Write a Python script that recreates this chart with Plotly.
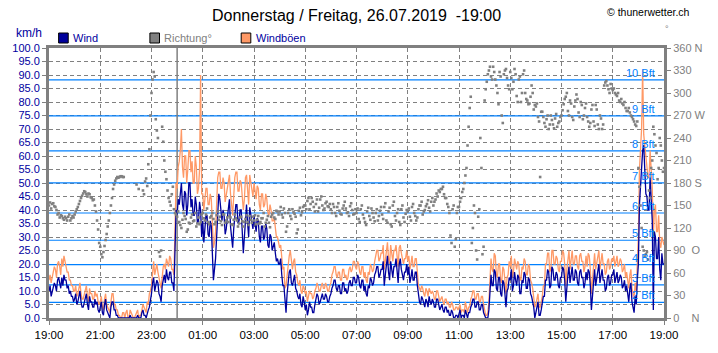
import plotly.graph_objects as go

# ---------------- data (2.5-minute samples, 19:00 -> 19:00 next day) ----------------
time_labels = ["19:00", "21:00", "23:00", "01:00", "03:00", "05:00", "07:00",
               "09:00", "11:00", "13:00", "15:00", "17:00", "19:00"]

wind = [
    10, 12, 8, 10, 11, 13, 12, 10, 14, 15, 13, 11, 15, 12, 16, 14, 14, 11, 12, 9, 10, 8, 8, 6,          # 19h
    7, 9, 5, 6, 8, 10, 6, 4, 4, 6, 7, 9, 5, 3, 8, 6, 6, 4, 4, 7, 5, 6, 3, 2,                           # 20h
    4, 6, 2, 1, 5, 7, 3, 2, 1, 0, 4, 6, 6, 3, 3, 1, 1, 0, 0, 0, 0, 0, 0, 0,                            # 21h
    0, 0, 0, 0, 1, 0, 0, 0, 0, 0, 0, 1, 0, 0, 0, 2, 3, 1, 1, 0, 2, 3, 4, 6,                            # 22h
    9, 13, 15, 10, 12, 14, 13, 9, 8, 6, 12, 14, 16, 13, 18, 15, 14, 17, 17, 13, 13, 10, 28, 40,        # 23h
    38, 44, 42, 48, 50, 42, 40, 47, 46, 38, 42, 50, 50, 41, 44, 38, 38, 45, 42, 35, 36, 43, 40, 30,    # 00h
    36, 28, 32, 38, 38, 31, 30, 36, 34, 20, 14, 18, 22, 30, 40, 46, 44, 38, 36, 40, 38, 31, 33, 37,    # 01h
    40, 44, 34, 28, 26, 33, 38, 42, 42, 35, 36, 40, 40, 34, 24, 30, 38, 42, 35, 30, 41, 38, 37, 33,    # 02h
    38, 35, 32, 37, 36, 30, 28, 34, 34, 29, 30, 35, 33, 27, 26, 31, 30, 25, 27, 28, 24, 21, 22, 20,    # 03h
    20, 22, 16, 12, 12, 5, 2, 9, 14, 17, 18, 13, 12, 15, 16, 11, 10, 8, 7, 9, 5, 4, 8, 6,              # 04h
    3, 5, 1, 3, 6, 4, 4, 2, 2, 5, 7, 9, 8, 5, 6, 8, 9, 7, 7, 9, 8, 6, 6, 8,                            # 05h
    9, 11, 12, 14, 14, 11, 10, 12, 12, 9, 9, 13, 13, 10, 11, 9, 10, 13, 14, 12, 12, 15, 15, 13,        # 06h
    13, 16, 15, 12, 11, 14, 14, 10, 12, 9, 8, 12, 11, 15, 14, 12, 13, 16, 17, 19, 19, 15, 16, 18,      # 07h
    18, 21, 12, 16, 20, 23, 17, 14, 21, 18, 15, 19, 19, 22, 16, 13, 20, 22, 18, 15, 14, 17, 17, 20,    # 08h
    16, 19, 13, 15, 18, 14, 14, 17, 17, 12, 8, 6, 5, 8, 7, 5, 4, 7, 6, 4, 8, 6, 5, 7,                  # 09h
    6, 4, 4, 7, 7, 5, 3, 4, 5, 3, 2, 4, 4, 2, 3, 1, 1, 3, 2, 0, 0, 1, 1, 0,                            # 10h
    2, 3, 0, 1, 1, 0, 3, 1, 0, 2, 2, 4, 5, 7, 7, 4, 4, 6, 6, 3, 3, 5, 5, 2,                            # 11h
    1, 0, 0, 0, 3, 12, 16, 12, 12, 18, 17, 11, 10, 15, 15, 9, 8, 14, 13, 9, 4, 10, 11, 15,             # 12h
    14, 18, 10, 12, 17, 14, 12, 16, 15, 9, 9, 14, 13, 17, 16, 11, 11, 15, 14, 9, 8, 6, 4, 0,           # 13h
    2, 5, 6, 1, 1, 3, 5, 8, 8, 14, 14, 18, 17, 11, 12, 19, 18, 14, 14, 17, 16, 12, 11, 15,             # 14h
    15, 19, 18, 14, 6, 12, 16, 19, 13, 16, 19, 14, 14, 18, 17, 13, 12, 17, 18, 15, 15, 11, 13, 17,     # 15h
    14, 18, 17, 12, 3, 8, 15, 18, 12, 15, 16, 20, 13, 16, 18, 14, 14, 10, 11, 15, 16, 12, 13, 16,      # 16h
    16, 18, 13, 15, 17, 13, 14, 16, 15, 11, 12, 14, 10, 12, 8, 6, 11, 13, 6, 4, 2, 8, 5, 14,           # 17h
    20, 42, 50, 58, 62, 64, 52, 46, 45, 40, 40, 52, 44, 36, 3, 32, 30, 22, 22, 30, 18, 14, 24, 20,     # 18h
    20,
]

gust = [
    14, 16, 13, 15, 16, 19, 18, 15, 20, 21, 19, 16, 22, 19, 23, 21, 20, 17, 17, 14, 14, 12, 12, 10,
    10, 12, 8, 9, 11, 13, 9, 7, 7, 9, 10, 12, 8, 6, 11, 9, 9, 7, 7, 10, 8, 9, 6, 5,
    6, 8, 4, 3, 7, 9, 5, 4, 3, 2, 6, 9, 9, 5, 5, 3, 3, 1, 1, 0, 0, 2, 2, 0,
    2, 3, 0, 0, 3, 2, 1, 0, 0, 1, 2, 3, 0, 1, 1, 4, 5, 4, 3, 2, 6, 5, 9, 10,
    12, 17, 21, 16, 18, 20, 17, 14, 13, 11, 16, 19, 20, 18, 22, 20, 19, 23, 22, 18, 18, 16, 42, 50,
    48, 56, 58, 62, 70, 56, 52, 60, 60, 50, 55, 62, 62, 54, 58, 50, 50, 60, 56, 46, 48, 55, 90, 46,
    46, 40, 44, 48, 48, 42, 42, 46, 44, 32, 26, 28, 32, 42, 52, 54, 54, 48, 48, 52, 50, 43, 46, 49,
    50, 53, 46, 41, 38, 45, 52, 54, 54, 47, 47, 51, 50, 45, 40, 44, 52, 53, 46, 42, 53, 50, 48, 45,
    50, 47, 44, 49, 48, 42, 40, 46, 46, 41, 42, 46, 44, 39, 38, 42, 40, 36, 36, 37, 33, 30, 30, 28,
    26, 27, 22, 18, 19, 11, 12, 16, 20, 23, 25, 20, 18, 21, 22, 17, 16, 13, 12, 14, 10, 9, 12, 11,
    9, 10, 6, 8, 10, 9, 9, 7, 8, 10, 11, 13, 12, 10, 10, 12, 13, 11, 11, 13, 12, 10, 10, 12,
    13, 16, 17, 19, 19, 16, 15, 17, 17, 14, 14, 18, 18, 15, 16, 14, 15, 18, 19, 17, 18, 21, 21, 19,
    18, 21, 20, 17, 16, 19, 19, 15, 17, 14, 13, 17, 16, 20, 19, 17, 18, 21, 24, 25, 25, 21, 22, 24,
    24, 27, 18, 22, 26, 28, 22, 20, 27, 24, 21, 25, 25, 27, 22, 19, 26, 27, 24, 21, 20, 22, 22, 25,
    21, 23, 18, 20, 23, 19, 19, 22, 22, 17, 12, 11, 10, 12, 11, 9, 8, 11, 10, 8, 11, 10, 9, 10,
    9, 7, 7, 10, 10, 8, 6, 7, 8, 6, 5, 7, 7, 5, 6, 4, 4, 6, 5, 3, 3, 4, 4, 3,
    4, 5, 2, 3, 3, 2, 6, 3, 2, 4, 4, 7, 8, 10, 10, 7, 7, 9, 9, 6, 6, 8, 8, 5,
    3, 1, 1, 2, 6, 18, 22, 18, 17, 24, 23, 16, 15, 20, 20, 14, 13, 19, 18, 14, 9, 15, 16, 21,
    19, 23, 15, 17, 22, 20, 18, 21, 20, 14, 14, 19, 18, 22, 21, 16, 16, 20, 19, 14, 13, 11, 8, 4,
    5, 8, 9, 4, 4, 6, 8, 12, 12, 20, 20, 24, 24, 17, 18, 25, 25, 20, 20, 23, 22, 18, 17, 21,
    21, 25, 24, 20, 12, 18, 22, 25, 18, 22, 25, 20, 20, 23, 23, 19, 18, 23, 24, 21, 21, 17, 19, 23,
    19, 24, 23, 18, 9, 14, 21, 24, 18, 21, 22, 25, 18, 22, 24, 20, 20, 16, 17, 21, 22, 18, 19, 22,
    21, 23, 19, 21, 23, 19, 20, 22, 21, 17, 18, 20, 15, 17, 13, 11, 16, 18, 11, 9, 7, 13, 10, 20,
    30, 55, 62, 70, 92, 68, 64, 58, 56, 52, 52, 62, 54, 48, 30, 40, 42, 32, 32, 38, 28, 26, 30, 28,
    27,
]

direction = [
    150, 154, 146, 152, 153, 149, 148, 144, 138, 140, 134, 137, 136, 133, 131, 135, 133, 130, 135, 138, 130, 133, 136, 134,
    138, 142, 145, 148, 152, 156, 160, 163, 166, 169, 168, 165, 162, 166, 165, 161, 160, 157, 158, 150, 142, 130, 118, 100,
    95, 85, 81, 88, 96, 104, 112, 122, 130, 140, 150, 160, 172, 178, 183, 186, 188, 187, 188, 189, 189, 188, 188, None,
    None, None, None, None, None, None, None, None, None, None, 178, None, 172, None, None, None, 170, 165, 182, 186, 176, 205, 225, 270,
    300, 318, 328, 322, 265, 250, 240, 88, 82, 90, 255, 235, 210, 195, 185, 170, 160, 155, 150, 165, 175, 145, 140, 138,
    135, 142, 128, 124, 120, 131, 140, 136, 132, 115, 118, 127, 126, 134, 138, 129, 130, 140, 122, 126, 134, 125, 128, 138,
    140, 133, 130, 138, 146, 128, 125, 134, 136, 140, 132, 125, 128, 137, 142, 131, 135, 129, 124, 138, 138, 127, 130, 134,
    128, 136, 134, 125, 124, 131, 138, 133, 130, 122, 126, 134, 135, 129, 122, 128, 132, 137, 128, 124, 136, 131, 127, 135,
    130, 137, 125, 131, 136, 126, 128, 133, 133, 140, 122, 127, 131, 136, 127, 121, 135, 138, 140, 134, 132, 143, 142, 138,
    142, 148, 138, 134, 146, 140, 115, 122, 140, 145, 136, 132, 145, 141, 139, 135, 113, 118, 143, 147, 137, 141, 148, 150,
    150, 145, 156, 160, 145, 152, 160, 155, 148, 142, 152, 158, 142, 147, 158, 162, 150, 144, 146, 153, 155, 149, 148, 152,
    145, 140, 152, 148, 140, 136, 148, 153, 143, 139, 138, 146, 150, 155, 146, 140, 141, 136, 149, 153, 144, 138, 139, 145,
    140, 146, 132, 128, 145, 150, 138, 133, 128, 124, 142, 147, 136, 131, 146, 140, 134, 129, 140, 145, 130, 136, 143, 148,
    138, 132, 148, 153, 130, 127, 142, 147, 125, 122, 150, 155, 136, 130, 140, 145, 128, 124, 145, 150, 134, 128, 139, 144,
    142, 146, 135, 130, 148, 152, 140, 136, 130, 134, 145, 150, 150, 155, 138, 142, 144, 149, 152, 157, 147, 142, 155, 160,
    150, 155, 158, 166, 162, 170, 168, 172, 172, 175, 165, 160, 160, 152, 148, 140, 110, 100, 145, 150, 95, 105, 140, 148,
    148, 155, 160, 168, 172, 180, 190, 200, 230, 255, 280, 295, 100, 120, 150, 140, 90, 78, 135, 145, 240, 200, 85, 95,
    290, 305, 315, 325, 330, 335, 322, 318, 335, 328, 318, 310, 300, 285, 328, 322, 270, 260, 325, 330, 332, 320, 310, 305,
    328, 320, 305, 315, 332, 325, 296, 288, 318, 322, 288, 300, 325, 330, 300, 292, 290, 285, 286, 295, 310, 300, 278, 284,
    282, 286, 268, 262, 188, 275, 275, 268, 260, 255, 265, 270, 252, 258, 270, 264, 258, 253, 266, 272, 255, 260, 262, 268,
    270, 277, 285, 292, 295, 300, 276, 270, 290, 286, 268, 264, 282, 290, 298, 292, 274, 268, 288, 284, 265, 270, 280, 286,
    268, 262, 255, 260, 278, 284, 262, 256, 284, 278, 258, 252, 270, 266, 252, 258, 310, 314, 316, 310, 305, 300, 312, 306,
    304, 306, 300, 298, 296, 300, 290, 288, 292, 286, 284, 288, 280, 276, 276, 280, 274, 270, 268, 265, 262, 258, 256, 262,
    200, 175, 150, 120, 95, 90, 82, 85, 88, 78, 170, 160, 200, 210, 255, 245, 230, 220, 185, 200, 240, 230, 210, 195,
    200,
]

bft_kmh = [5.76, 12.24, 19.8, 28.8, 38.88, 50.04, 61.92, 74.88, 88.2]
bft_labels = ["2 Bft", "3 Bft", "4 Bft", "5 Bft", "6 Bft", "7 Bft", "8 Bft", "9 Bft", "10 Bft"]

kmh_ticks = list(range(0, 101, 5))
deg_ticks = list(range(0, 361, 30))
NB = "\u00a0"
deg_labels = ["0" + NB * 4 + "N", "30", "60", "90" + NB * 2 + "O", "120", "150", "180" + NB + "S",
              "210", "240", "270" + NB + "W", "300", "330", "360" + NB + "N"]

title_text = "Donnerstag / Freitag, 26.07.2019" + NB + NB + "-19:00"

assert len(wind) == len(gust) == len(direction) == 577

# ---------------- figure ----------------
t = [i * 2.5 / 60 for i in range(len(wind))]

W, H = 718, 353
L, R, T, B = 40, 38, 48, 35
PW, PH = W - L - R, H - T - B


def px(xp):
    return (xp - L) / PW


def py(yp):
    return (H - B - yp) / PH


GRAY = "#808080"
BLUE_TXT = "#0000A0"
WIND_C = "#00009C"
GUST_C = "#FF9966"
BFT_C = "#0080FF"
FONT = "Liberation Sans, Arial, sans-serif"

fig = go.Figure()
fig.add_trace(go.Scatter(x=t, y=direction, mode="markers", yaxis="y2",
                         marker=dict(symbol="square", size=2.6, color=GRAY, line=dict(width=0)),
                         showlegend=False, hoverinfo="skip"))
fig.add_trace(go.Scatter(x=t, y=gust, mode="lines", line=dict(color=GUST_C, width=1.3),
                         showlegend=False, hoverinfo="skip"))
fig.add_trace(go.Scatter(x=t, y=wind, mode="lines", line=dict(color=WIND_C, width=1.3),
                         showlegend=False, hoverinfo="skip"))

shapes = []
for v in bft_kmh:
    shapes.append(dict(type="line", xref="x", yref="y", x0=0, x1=24, y0=v, y1=v,
                       line=dict(color=BFT_C, width=1.2), layer="between"))
# midnight line
shapes.append(dict(type="line", xref="x", yref="y", x0=5, x1=5, y0=0, y1=100,
                   line=dict(color=GRAY, width=1.5), layer="between"))

# legend squares
legend_items = [(50, WIND_C, "Wind", BLUE_TXT), (145, GRAY, "Richtung°", GRAY), (240, GUST_C, "Windböen", BLUE_TXT)]
annotations = []
for x0, col, label, tcol in legend_items:
    shapes.append(dict(type="rect", xref="paper", yref="paper",
                       x0=px(x0), x1=px(x0 + 10), y0=py(43), y1=py(33),
                       fillcolor=col, line=dict(color="black", width=1), layer="above"))
    annotations.append(dict(text=label, xref="paper", yref="paper", x=px(x0 + 13), y=py(38),
                            xanchor="left", yanchor="middle", showarrow=False,
                            font=dict(family=FONT, size=11, color=tcol)))

for v, lab in zip(bft_kmh, bft_labels):
    annotations.append(dict(text=lab, xref="paper", yref="y", x=px(673), y=v,
                            xanchor="right", yanchor="bottom", showarrow=False, yshift=-1,
                            font=dict(family=FONT, size=11, color=BFT_C)))

annotations += [
    dict(text=title_text, xref="paper", yref="paper", x=0.5, y=py(15), xanchor="center", yanchor="middle",
         showarrow=False, font=dict(family=FONT, size=16, color="black")),
    dict(text="© thunerwetter.ch", xref="paper", yref="paper", x=px(619), y=py(12), xanchor="left",
         yanchor="middle", showarrow=False, font=dict(family=FONT, size=10.5, color="black")),
    dict(text="km/h", xref="paper", yref="paper", x=px(4), y=py(33), xanchor="left", yanchor="middle",
         showarrow=False, font=dict(family=FONT, size=12, color=BLUE_TXT)),
    dict(text="°", xref="paper", yref="paper", x=px(683), y=py(29), xanchor="center", yanchor="middle",
         showarrow=False, font=dict(family=FONT, size=9, color=GRAY)),
]

fig.update_layout(
    width=W, height=H, margin=dict(l=L, r=R, t=T, b=B, pad=0),
    paper_bgcolor="white", plot_bgcolor="white", showlegend=False,
    font=dict(family=FONT),
    xaxis=dict(range=[0, 24], tickmode="array", tickvals=list(range(0, 25, 2)), ticktext=time_labels,
               showgrid=True, gridcolor=GRAY, gridwidth=1, griddash="4px,3px", zeroline=False,
               showline=True, linecolor=GRAY, linewidth=3, mirror=True,
               ticks="outside", ticklen=4, tickcolor=GRAY,
               tickfont=dict(family=FONT, size=11.5, color="black")),
    yaxis=dict(range=[0, 100], tickmode="array", tickvals=kmh_ticks,
               ticktext=[f"{v:.1f}" for v in kmh_ticks],
               showgrid=True, gridcolor=GRAY, gridwidth=1, griddash="4px,3px", zeroline=False,
               showline=True, linecolor=GRAY, linewidth=3, mirror=True,
               ticks="outside", ticklen=4, tickcolor=GRAY,
               tickfont=dict(family=FONT, size=11, color=BLUE_TXT)),
    yaxis2=dict(range=[0, 360], overlaying="y", side="right", tickmode="array", tickvals=deg_ticks,
                ticktext=deg_labels, showgrid=False, zeroline=False,
                showline=True, linecolor=GRAY, linewidth=3,
                ticks="outside", ticklen=4, tickcolor=GRAY,
                tickfont=dict(family=FONT, size=11, color=GRAY)),
    shapes=shapes, annotations=annotations,
)

fig.write_html("out.html")
